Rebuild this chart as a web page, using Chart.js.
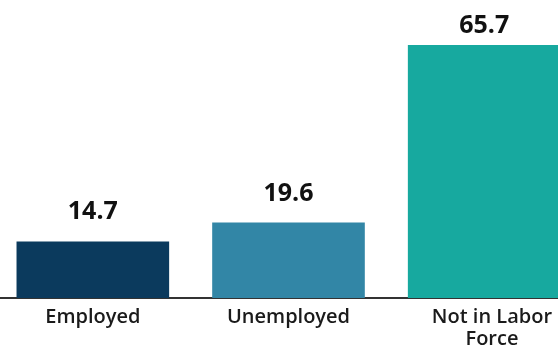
<!DOCTYPE html>
<html>
<head>
<meta charset="utf-8">
<script src="https://cdn.jsdelivr.net/npm/chart.js@4"></script>
<style>
  html, body { margin: 0; padding: 0; background: #fff; overflow: hidden; }
  #wrap { position: relative; left: -5px; width: 587px; height: 347px; }
</style>
</head>
<body>
<div id="wrap"><canvas id="grafico"></canvas></div>
<script>
// dados do gráfico
const categorias = [['Employed'], ['Unemployed'], ['\u00a0\u00a0\u00a0Not in Labor', '\u00a0\u00a0\u00a0Force']];
const valores = [14.7, 19.6, 65.7];
const cores = ['#0b3a5d', '#3286a6', '#17a99f'];

/** Desenha os valores acima das barras */
const rotulosValor = {
  id: 'rotulosValor',
  afterDatasetsDraw(chart) {
    const ctx = chart.ctx;
    const meta = chart.getDatasetMeta(0);
    ctx.save();
    ctx.font = 'bold 25px "Open Sans"';
    ctx.fillStyle = '#111';
    ctx.textAlign = 'center';
    ctx.textBaseline = 'alphabetic';
    meta.data.forEach((bar, i) => {
      const y = Math.max(bar.y - 22, 33);
      ctx.fillText(valores[i].toFixed(1), bar.x, y);
    });
    ctx.restore();
  }
};

const ctx = document.getElementById('grafico').getContext('2d');
new Chart(ctx, {
  type: 'bar',
  data: {
    labels: categorias,
    datasets: [{ data: valores, backgroundColor: cores, borderWidth: 0, barPercentage: 1, categoryPercentage: 0.78 }]
  },
  options: {
    responsive: true, maintainAspectRatio: false, animation: false,
    layout: { padding: { top: 45, left: 0, right: 0, bottom: 0 } },
    plugins: { legend: { display: false }, tooltip: { enabled: false } },
    scales: {
      x: {
        afterFit: s => { s.height = 49; },
        grid: { display: false, drawTicks: false },
        border: { display: true, color: '#333', width: 2 },
        ticks: { color: '#1a1a1a', font: { family: '"Open Sans"', size: 20, weight: '600', lineHeight: 1.1 }, padding: 8, maxRotation: 0 }
      },
      y: { display: false, min: 0, max: 65.7 }
    }
  },
  plugins: [rotulosValor]
});
</script>
</body>
</html>
